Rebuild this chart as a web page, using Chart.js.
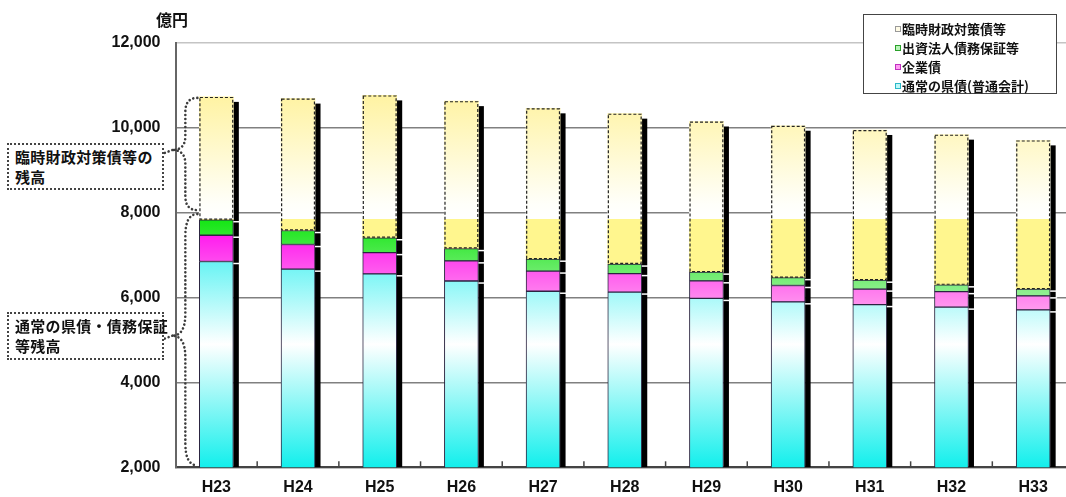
<!DOCTYPE html>
<html lang="ja">
<head>
<meta charset="utf-8">
<title>県債等残高の推移</title>
<script src="https://cdn.jsdelivr.net/npm/chart.js@4.4.1/dist/chart.umd.min.js"></script>
<style>
  html, body { margin: 0; padding: 0; background: #fff; }
  #wrap { position: relative; width: 1066px; height: 497px; overflow: hidden; background: #fff; }
  #chart { position: absolute; left: 0; top: 0; }
  .unit { position: absolute; left: 156px; top: 9px; font: bold 16px "Noto Sans CJK JP", sans-serif; color: #111; line-height: 20px; }
  .note { position: absolute; left: 7px; width: 157px; box-sizing: border-box; border: 2px dotted #444;
          font: bold 15px/20px "Noto Sans CJK JP", sans-serif; color: #111; padding: 2px 0 2px 6px; background: #fff; letter-spacing: 0.3px; white-space: nowrap; }
  .legend { position: absolute; left: 863px; top: 14px; width: 194px; height: 80px; box-sizing: border-box;
            border: 1px solid #444; background: #fff; padding: 4px 0 0 31px; }
  .legend .row { display: flex; align-items: center; height: 19px; font: bold 13px "Noto Sans CJK JP", sans-serif; color: #111; white-space: nowrap; }
  .legend .mk { width: 4px; height: 4px; border: 1.5px solid #555; margin-right: 1px; flex: none; }
</style>
</head>
<body>
<div id="wrap">
  <canvas id="chart" width="1080" height="497"></canvas>
  <div class="unit">億円</div>
  <div class="note" style="top:143px;height:47px;">臨時財政対策債等の<br>残高</div>
  <div class="note" style="top:312px;height:48px;">通常の県債・債務保証<br>等残高</div>
  <div class="legend" id="legend"></div>
</div>
<script>
// 年度
const years = ['H23', 'H24', 'H25', 'H26', 'H27', 'H28', 'H29', 'H30', 'H31', 'H32', 'H33'];

// 残高（億円）: 各系列の積み上げ分
const ordinaryBonds   = [6850, 6670, 6560, 6390, 6150, 6130, 5980, 5900, 5835, 5775, 5710]; // 通常の県債(普通会計)
const enterpriseBonds = [620, 580, 500, 475, 475, 435, 415, 385, 365, 365, 330];            // 企業債
const guaranteeDebt   = [365, 330, 350, 290, 280, 225, 205, 185, 210, 160, 160];            // 出資法人債務保証等
const specialBonds    = [2895, 3110, 3355, 3475, 3555, 3545, 3550, 3580, 3540, 3540, 3505]; // 臨時財政対策債等

const seriesLabels = ['通常の県債(普通会計)', '企業債', '出資法人債務保証等', '臨時財政対策債等'];

// 縦軸
const yMin = 2000, yMax = 12000, yStep = 2000;
// 通常分と臨時財政対策債等分の境目の水準
const splitLevel = 7850;

// 縦方向グラデーション（値の位置で色を指定）
function valueGradient(chart, stops, fallback) {
  const area = chart.chartArea;
  if (!area) return fallback;
  const y = chart.scales.y;
  const g = chart.ctx.createLinearGradient(0, y.getPixelForValue(yMin), 0, y.getPixelForValue(yMax));
  stops.forEach(([v, c]) => g.addColorStop(Math.min(1, Math.max(0, (v - yMin) / (yMax - yMin))), c));
  return g;
}

const fills = [
  { fallback: '#40f0f0', stops: [[2000, '#12efec'], [4900, '#ffffff'], [7000, '#5cf3f3']] },
  { fallback: '#ff44ee', stops: [[5700, '#ff9cee'], [7450, '#ff1eee']] },
  { fallback: '#33ee33', stops: [[6100, '#90ee90'], [7800, '#16e616']] },
  { fallback: '#fff594', stops: [[2000, '#fff68e'], [splitLevel, '#fff68e'], [splitLevel + 1, '#ffffff'], [8200, '#fffffa'], [11000, '#fff29a']] }
];
const legendMarks = [
  { border: '#2bb8c8', fill: '#bff8f8' },
  { border: '#c030c0', fill: '#ff9cf2' },
  { border: '#2aa02a', fill: '#b8f5b8' },
  { border: '#999', fill: '#fffbe6' }
];

const seriesValues = [ordinaryBonds, enterpriseBonds, guaranteeDebt, specialBonds];

const datasets = seriesValues.map((vals, i) => ({
  label: seriesLabels[i],
  data: vals,
  backgroundColor: (ctx) => valueGradient(ctx.chart, fills[i].stops, fills[i].fallback),
  borderColor: '#2b2440',
  borderWidth: i === 3 ? 0 : 1,
  borderSkipped: false,
  barThickness: 34,
  stack: 'total'
}));

// 影、段差の白線、臨時分の点線枠
const barDecor = {
  id: 'barDecor',
  beforeDatasetsDraw(chart) {
    const ctx = chart.ctx, area = chart.chartArea;
    const tops = chart.getDatasetMeta(3).data;
    ctx.save();
    ctx.beginPath();
    ctx.rect(area.left, area.top, area.right - area.left, area.bottom - area.top);
    ctx.clip();
    ctx.fillStyle = '#000';
    tops.forEach(el => {
      const { x, y, width } = el.getProps(['x', 'y', 'width'], true);
      ctx.fillRect(x + width / 2, y + 5, 5.5, area.bottom - y - 5);
    });
    ctx.restore();
  },
  afterDatasetsDraw(chart) {
    const ctx = chart.ctx;
    ctx.save();
    // 影の上の白い段差
    ctx.strokeStyle = '#fff';
    ctx.lineWidth = 1.5;
    for (let d = 0; d < 3; d++) {
      chart.getDatasetMeta(d).data.forEach(el => {
        const { x, y, width } = el.getProps(['x', 'y', 'width'], true);
        ctx.beginPath();
        ctx.moveTo(x + width / 2, y + 2);
        ctx.lineTo(x + width / 2 + 7, y + 2);
        ctx.stroke();
      });
    }
    // 臨時財政対策債等の点線枠
    ctx.strokeStyle = '#222';
    ctx.lineWidth = 1.2;
    ctx.setLineDash([3, 2]);
    chart.getDatasetMeta(3).data.forEach(el => {
      const { x, y, width, base } = el.getProps(['x', 'y', 'width', 'base'], true);
      ctx.strokeRect(x - width / 2 + 0.6, y + 0.6, width - 1.2, base - y - 1.2);
    });
    ctx.restore();
  },
  afterDraw(chart) {
    const ctx = chart.ctx, area = chart.chartArea;
    const xs = chart.scales.x, ys = chart.scales.y;
    ctx.save();
    // 区切りの目盛（内向き）
    ctx.strokeStyle = '#444';
    ctx.lineWidth = 1.5;
    const cw = xs.getPixelForValue(1) - xs.getPixelForValue(0);
    for (let i = 1; i < years.length; i++) {
      const bx = xs.getPixelForValue(i) - cw / 2;
      ctx.beginPath();
      ctx.moveTo(bx, area.bottom);
      ctx.lineTo(bx, area.bottom - 6);
      ctx.stroke();
    }
    // 中かっこ（点線）
    const first = chart.getDatasetMeta(3).data[0].getProps(['x', 'y', 'width'], true);
    const barLeft = first.x - first.width / 2;
    const x0 = barLeft - 2, xIn = barLeft - 14, xCusp = barLeft - 27;
    const ySplit = ys.getPixelForValue(splitLevel);
    ctx.strokeStyle = '#3c3c3c';
    ctx.lineWidth = 2.6;
    ctx.lineCap = 'round';
    ctx.setLineDash([0.01, 4]);
    function brace(yA, yB, r) {
      const cy = (yA + yB) / 2 - 4;
      ctx.beginPath();
      ctx.moveTo(x0, yA);
      ctx.quadraticCurveTo(xIn, yA, xIn, yA + r);
      ctx.lineTo(xIn, cy - r);
      ctx.quadraticCurveTo(xIn, cy, xCusp, cy);
      ctx.quadraticCurveTo(xIn, cy, xIn, cy + r);
      ctx.lineTo(xIn, yB - r);
      ctx.quadraticCurveTo(xIn, yB, x0, yB);
      ctx.stroke();
      ctx.beginPath();
      ctx.moveTo(xCusp, cy);
      ctx.lineTo(area.left - 11, cy + 3);
      ctx.stroke();
    }
    brace(first.y + 1, ySplit - 9, 14);
    brace(ySplit - 5, area.bottom - 2, 22);
    ctx.restore();
  }
};

new Chart(document.getElementById('chart'), {
  type: 'bar',
  data: { labels: years, datasets },
  plugins: [barDecor],
  options: {
    responsive: false,
    animation: false,
    events: [],
    layout: { padding: { top: 43, right: 6, bottom: 0, left: 0 } },
    plugins: { legend: { display: false }, tooltip: { enabled: false } },
    scales: {
      x: {
        stacked: true,
        grid: { display: false, drawTicks: false },
        border: { display: true, color: '#444', width: 2 },
        ticks: { color: '#111', padding: 11, font: { family: 'Liberation Sans', size: 16, weight: 'bold' } },
        afterFit(scale) { scale.height = 29.7; }
      },
      y: {
        stacked: true,
        min: yMin, max: yMax,
        grid: {
          drawTicks: false,
          color: (c) => c.tick && c.tick.value === yMax ? '#c4c4c4' : '#808080',
          lineWidth: 1.6
        },
        border: { display: true, color: '#666', width: 2 },
        ticks: {
          stepSize: yStep, padding: 15, color: '#111',
          font: { family: 'Liberation Sans', size: 16, weight: 'bold' },
          callback: (v) => v.toLocaleString('en-US')
        },
        afterFit(scale) { scale.width = 175.5; }
      }
    }
  }
});

// 凡例（上から臨時分→通常分）
const legendEl = document.getElementById('legend');
for (let i = seriesLabels.length - 1; i >= 0; i--) {
  const row = document.createElement('div');
  row.className = 'row';
  const mk = document.createElement('span');
  mk.className = 'mk';
  mk.style.borderColor = legendMarks[i].border;
  mk.style.background = legendMarks[i].fill;
  const tx = document.createElement('span');
  tx.textContent = seriesLabels[i];
  row.appendChild(mk);
  row.appendChild(tx);
  legendEl.appendChild(row);
}
</script>
</body>
</html>
